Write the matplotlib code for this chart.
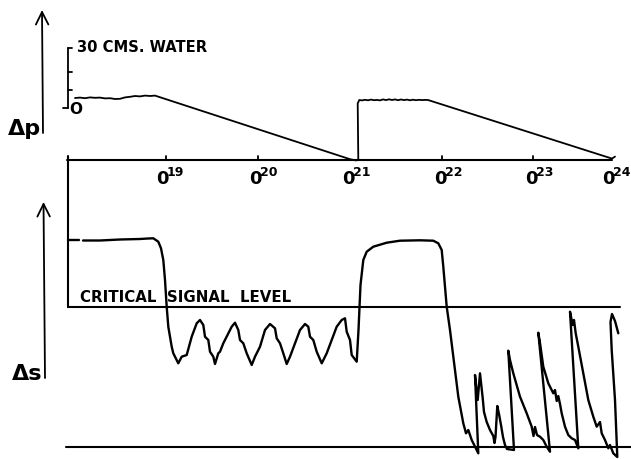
import matplotlib.pyplot as plt
import numpy as np

tick_pos = [166, 258, 358, 442, 533, 612]
tick_label_pos = [162, 255, 348, 440, 531, 608]
tick_sup = ["19", "20", "21", "22", "23", "24"]

# pressure scale (cms. water)
dp_scale_ticks = [0, 9, 18, 30]

# pressure trace, Δp in cms. water
dp_x = [75, 80, 85, 90, 95, 100, 105, 110, 115, 120, 125, 130, 135, 140, 145, 150, 155,
        350, 356, 358.3, 357.7, 359.3,
        362, 365, 368, 371, 374, 377, 380, 383, 386, 389, 392, 395, 398, 401, 404, 407,
        410, 413, 416, 419, 422, 425, 428,
        612, 615]
dp_y = [5.0, 5.2, 4.9, 5.3, 5.1, 5.2, 4.8, 4.9, 4.5, 4.6, 5.3, 5.6, 6.0, 5.8, 6.2, 6.0, 6.2,
        -25.6, -26.2, -26.0, 2.3, 4.0,
        3.8, 4.1, 3.85, 4.2, 3.9, 4.05, 3.8, 4.3, 3.95, 4.35, 4.0, 4.3, 3.9, 4.25, 3.95, 4.2,
        3.85, 4.15, 3.9, 4.1, 3.95, 4.05, 4.0,
        -25.3, -24.3]

# signal trace, Δs (pen deflection above baseline, critical level = 140)
critical_level = 140
ds_x = [68, 79, np.nan,
        83, 100, 120, 140, 148, 153.3, 158.3, 161, 163.3, 165, 166.7, 168.3, 171.7, 173.3, 178.3,
        181.7, 186.7, 191.7, 196.7, 200, 203.3, 205, 208.3, 210, 213.3, 215,
        218.3, 220, 223.3, 228.3, 231.7, 235, 238.3, 240, 243.3, 246.7, 251.7,
        255, 260, 265, 270, 275, 276.7, 280, 283.3, 286.7,
        290, 295, 300, 305, 308.3, 310, 313.3, 316.7, 321.7,
        326.7, 331.7, 336.7, 341.7, 345, 346.7, 350, 351.7, 356.7,
        358.5, 359.5, 360.5, 363.3, 366.7, 373.3, 386.7, 400, 420, 433.3, 438.3, 441.7,
        443.3, 445, 446.7, 450, 453.3, 458.3, 463.3, 466, 468.3, 471.7, 475, 478.3,
        475, 477.7, 480, 482.7, 484, 486.7, 490, 493.3, 494.5, 495.5,
        497.3, 499, 501, 503, 505, 507, 514,
        508.3, 510, 513.3, 520, 526.7, 531.7, 533.5, 535, 537, 540, 543.3, 546.7, 550,
        538.3, 540, 543.3, 548.3, 553.3, 555, 556.7, 558.3, 560, 561.7, 565, 568.3, 571.7, 575, 578.3,
        570, 572.7, 574, 575.7, 578.3, 583.3, 588.3, 593.3, 596.7, 600, 601.7, 605, 608.3, 610, 613.3, 617.3,
        615, 611.7, 610.5, 612, 615, 618.3]
ds_y = [207, 207, np.nan,
        206.5, 206.5, 207.5, 208, 208.5, 208.7, 205.3, 198.7, 187, 167, 140.3, 120.3, 100.3, 93.7, 83.7,
        90.3, 92, 110.3, 123.7, 127, 122, 110.3, 107, 95.3, 90.3, 83,
        93.7, 95.3, 103.7, 113.7, 120.3, 124.3, 117, 107, 103.7, 93.7, 82,
        90.3, 100.3, 117, 123, 118.7, 108.7, 103.7, 93.7, 83,
        90.3, 103.7, 117, 123, 120.3, 110.3, 107, 95.3, 83.7,
        93.7, 107, 120.3, 127, 128.7, 115.3, 107, 92, 85.3,
        117, 140, 162, 187, 195.3, 200.3, 204.3, 206.3, 206.7, 206.3, 203.7, 197,
        180.3, 160.3, 140.3, 117, 90.3, 50.3, 23.7, 13.7, 17, 7, 0.3, -6.3,
        72, 47, 73.7, 49, 35, 25, 17, 11, 4, 10,
        41, 33, 22, 10, 2, -2, -3,
        96.3, 87, 73.7, 50.3, 33.7, 20.3, 11, 20, 12, 10.3, 7, 0.3, -4.7,
        114.3, 104, 80.3, 63.7, 53.7, 57, 46, 51, 43, 33.7, 20.3, 12, 8.7, 7, -1.3,
        135.3, 122, 127, 113.7, 100.3, 73.7, 47, 30.3, 20.3, 25, 13.7, 7, -1.3, 2, -6.3, -10,
        47, 97, 125, 133, 126, 113.7]

plt.rcParams['font.family'] = 'DejaVu Sans'
plt.rcParams['font.weight'] = 'bold'

H = 459
fig = plt.figure(figsize=(6.31, 4.59), dpi=100)
ax_p = fig.add_axes([0, 1 - 185 / H, 1, 185 / H])
ax_s = fig.add_axes([0, 0, 1, (H - 185) / H])
ax_p.set_xlim(0, 631)
ax_p.set_ylim(-38.5, 54)
ax_s.set_xlim(0, 631)
ax_s.set_ylim(-12, 262)
for ax in (ax_p, ax_s):
    ax.axis('off')

k = dict(color='black', solid_capstyle='round', solid_joinstyle='round', clip_on=False)

# --- top: pressure ---
axis_level = -26
ax_p.plot([67, 612], [axis_level, axis_level], lw=1.5, **k)
for t in tick_pos:
    if t not in (358, 612):
        ax_p.plot([t, t], [axis_level, axis_level + 2], lw=1.3, **k)
for lx, sup in zip(tick_label_pos, tick_sup):
    ax_p.text(lx, -35.3, "0", fontsize=13, ha='center', va='center')
    ax_p.text(lx + 5, -32.3, sup, fontsize=9, ha='left', va='center')

# pressure scale
ax_p.plot([68, 68], [dp_scale_ticks[0], dp_scale_ticks[-1]], lw=1.3, **k)
for v in dp_scale_ticks:
    if v == 0:
        ax_p.plot([63, 68], [v, v], lw=1.3, **k)
    else:
        ax_p.plot([68, 72], [v, v], lw=1.3, **k)
ax_p.text(77, 30, "30 CMS. WATER", fontsize=10.6, ha='left', va='center')
ax_p.text(76, -1, "O", fontsize=11, ha='center', va='center')

ax_p.plot(dp_x, dp_y, lw=1.3, **k)

ax_p.annotate('', xy=(42, 49), xytext=(43, -12.5),
              arrowprops=dict(arrowstyle='->,head_length=0.6,head_width=0.3',
                              mutation_scale=15, lw=1.3, color='black',
                              shrinkA=0, shrinkB=0))
ax_p.text(24, -13.5, "Δp", fontsize=16, ha='center', va='baseline')

# --- bottom: signal ---
ax_s.plot([68, 68], [291, critical_level], lw=1.5, **k)
ax_s.plot([68, 620], [critical_level, critical_level], lw=1.5, **k)
ax_s.plot([66, 631], [0, 0], lw=1.5, **k)
ax_s.text(80, 149.5, "CRITICAL  SIGNAL  LEVEL", fontsize=10.8, ha='left', va='center')

ax_s.plot(ds_x, ds_y, lw=1.7, **k)

ax_s.annotate('', xy=(43.5, 245), xytext=(45, 69),
              arrowprops=dict(arrowstyle='->,head_length=0.6,head_width=0.3',
                              mutation_scale=15, lw=1.3, color='black',
                              shrinkA=0, shrinkB=0))
ax_s.text(27, 67, "Δs", fontsize=16, ha='center', va='baseline')

fig.savefig('out.png', dpi=100, facecolor='white')
